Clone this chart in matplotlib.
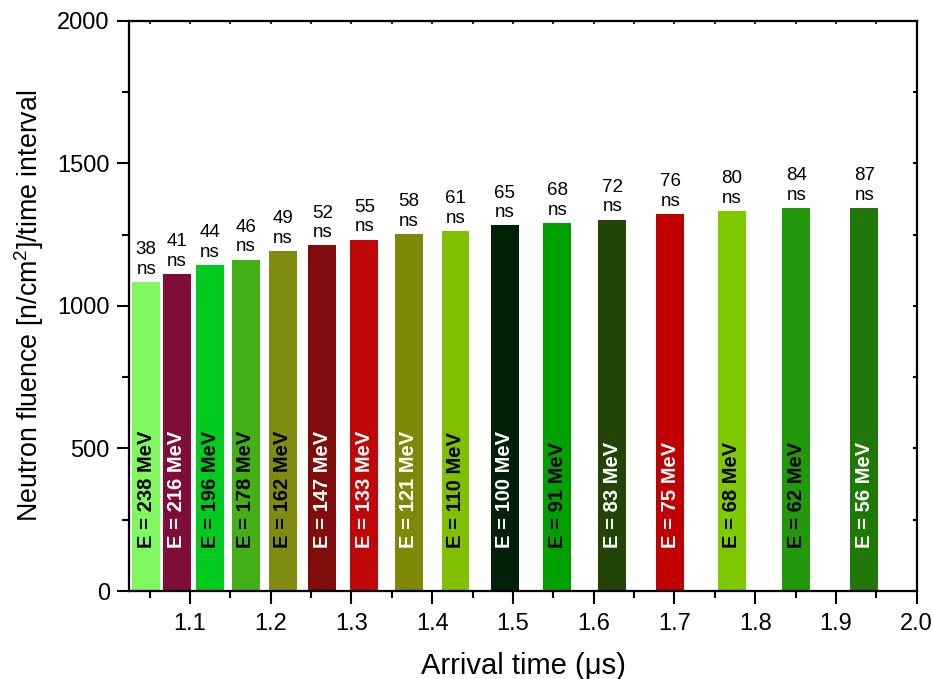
import numpy as np
import matplotlib
matplotlib.use("Agg")
import matplotlib.pyplot as plt
from matplotlib.ticker import MultipleLocator

plt.rcParams['font.family'] = ['Liberation Sans', 'DejaVu Sans']
plt.rcParams['mathtext.default'] = 'regular'

# Time-of-flight bins: arrival time (us), fluence per bin, bin width, neutron energy
arrival_us = [1.046, 1.084, 1.125, 1.169, 1.215, 1.264, 1.316, 1.371,
              1.429, 1.490, 1.555, 1.623, 1.695, 1.771, 1.851, 1.935]
fluence = [1085, 1113, 1143, 1163, 1193, 1213, 1233, 1253,
           1263, 1283, 1292, 1303, 1323, 1333, 1343, 1343]
interval_ns = [38, 41, 44, 46, 49, 52, 55, 58, 61, 65, 68, 72, 76, 80, 84, 87]
energy_mev = [238, 216, 196, 178, 162, 147, 133, 121, 110, 100, 91, 83, 75, 68, 62, 56]

bar_colors = ['#80F860', '#800C38', '#00CC20', '#44B018', '#808C10', '#800C0C',
              '#C00808', '#808808', '#80C000', '#002008', '#00A000', '#224406',
              '#C00000', '#80C800', '#22980A', '#207808']
text_colors = ['black', 'white', 'black', 'black', 'black', 'white', 'white', 'white',
               'black', 'white', 'black', 'white', 'white', 'black', 'black', 'white']

fig = plt.figure(figsize=(9.33, 6.79), dpi=100)
ax = fig.add_axes([0.1386, 0.1296, 0.9825 - 0.1386, 0.9691 - 0.1296])

bars = ax.bar(arrival_us, fluence, width=0.0345, color=bar_colors, edgecolor='none')

for x, h, dt, e, tc in zip(arrival_us, fluence, interval_ns, energy_mev, text_colors):
    ax.annotate(f'{dt}\nns', (x, h), xytext=(0, 3), textcoords='offset points',
                ha='center', va='bottom', fontsize=13.5, linespacing=1.2)
    ax.text(x, 150, f'E = {e} MeV', rotation=90, ha='center', va='bottom',
            fontsize=14.5, fontweight='bold', color=tc)

ax.set_xlim(1.025, 2.0)
ax.set_ylim(0, 2000)
ax.xaxis.set_major_locator(MultipleLocator(0.1))
ax.xaxis.set_minor_locator(MultipleLocator(0.05))
ax.yaxis.set_major_locator(MultipleLocator(500))
ax.yaxis.set_minor_locator(MultipleLocator(250))
ax.set_xticks(np.arange(1.1, 2.01, 0.1))
ax.set_xticklabels([f'{v:.1f}' for v in np.arange(1.1, 2.01, 0.1)])
ax.tick_params(which='major', direction='out', length=9, width=1.5, labelsize=17, pad=5)
ax.tick_params(axis='x', which='major', pad=7)
ax.tick_params(which='minor', direction='out', length=5, width=1.5)
ax.tick_params(top=False, right=False)

# plain ticks on the top and right frame
ax_r = ax.twinx()
ax_r.set_ylim(0, 2000)
ax_r.yaxis.set_major_locator(MultipleLocator(250))
ax_r.tick_params(direction='in', length=3, width=1.5, labelright=False)
ax_t = ax.twiny()
ax_t.set_xlim(1.025, 2.0)
ax_t.xaxis.set_major_locator(MultipleLocator(0.05))
ax_t.tick_params(direction='in', length=2, width=1.2, labeltop=False)

for a in (ax, ax_r, ax_t):
    for s in a.spines.values():
        s.set_linewidth(1.5)

ax.set_xlabel('Arrival time (μs)', fontsize=21, labelpad=12)
ax.set_ylabel('Neutron fluence [n/cm$^2$]/time interval', fontsize=19.3, labelpad=8)

fig.savefig('out.png', dpi=100)
